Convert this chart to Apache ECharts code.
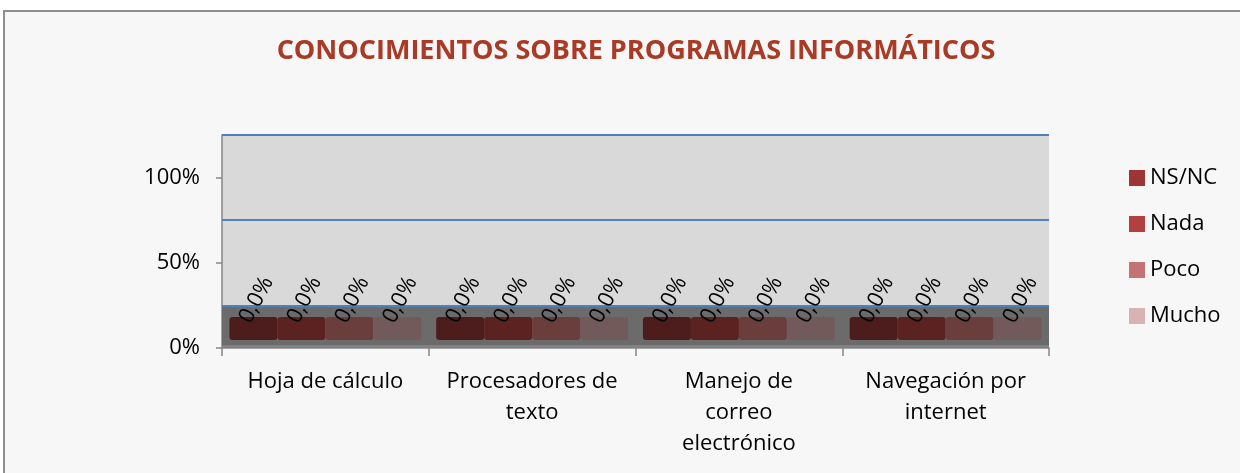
<!DOCTYPE html>
<html>
<head>
<meta charset="utf-8">
<title>Conocimientos sobre programas informáticos</title>
<script src="https://cdn.jsdelivr.net/npm/echarts@6/dist/echarts.min.js"></script>
<style>
  body { margin: 0; background: #fff; }
  #frame { position: absolute; left: 3px; top: 10px; width: 1300px; height: 500px;
           background: #f7f7f7; border-left: 2px solid #8f8f8f; border-top: 2px solid #8f8f8f; }
  #main { position: absolute; left: 0; top: 0; width: 1240px; height: 473px; }
</style>
</head>
<body>
<div id="frame"></div>
<div id="main"></div>
<script>
const categories = ['Hoja de cálculo', 'Procesadores de\ntexto', 'Manejo de\ncorreo\nelectrónico', 'Navegación por\ninternet'];
const seriesNames = ['NS/NC', 'Nada', 'Poco', 'Mucho'];
const nsncValues = [0, 0, 0, 0];
const nadaValues = [0, 0, 0, 0];
const pocoValues = [0, 0, 0, 0];
const muchoValues = [0, 0, 0, 0];
const yTickValues = [0, 0.5, 1];
const wallLines = [0.25, 0.75, 1.25];

const legendColors = ['#9e3535', '#b34040', '#c47272', '#d9b3b3'];
const barColors = ['#4d1c1c', '#5c2222', '#6b3e3e', '#735a5a'];

const allValues = [nsncValues, nadaValues, pocoValues, muchoValues];

let myChart = echarts.init(document.getElementById('main'));

function renderBar(params, api) {
    const ci = api.value(0);
    const v = api.value(1);
    const s = params.seriesIndex;
    const pt = api.coord([ci, v]);
    const zero = api.coord([ci, 0]);
    const band = api.size([1, 0])[0];
    const bw = band * 0.232;
    const x0 = pt[0] - band * 0.464 + s * bw;
    const top = pt[1] - 31;
    const bottom = zero[1] - 8;
    const label = (v * 100).toFixed(1).replace('.', ',') + '%';
    return {
        type: 'group',
        children: [
            {
                type: 'rect',
                shape: { x: x0, y: top, width: bw, height: bottom - top, r: 3 },
                style: { fill: barColors[s] }
            },
            {
                type: 'text',
                x: x0 + bw / 2 + 3,
                y: top - 17,
                rotation: 62 * Math.PI / 180,
                style: {
                    text: label,
                    fill: '#000',
                    fontSize: 22,
                    fontFamily: 'Open Sans',
                    align: 'center',
                    verticalAlign: 'middle'
                }
            }
        ]
    };
}

let series = seriesNames.map((name, s) => ({
    name: name,
    type: 'custom',
    renderItem: renderBar,
    itemStyle: { color: legendColors[s] },
    encode: { x: 0, y: 1 },
    data: allValues[s].map((v, i) => [i, v]),
    z: 5
}));

// back wall and floor of the 3D plot
series.push({
    name: 'wall',
    type: 'line',
    data: [],
    silent: true,
    markArea: {
        silent: true,
        itemStyle: { color: '#6b6b6b' },
        data: [[{ yAxis: 0.018 }, { yAxis: 0.25 }]]
    },
    markLine: {
        silent: true,
        symbol: 'none',
        label: { show: false },
        lineStyle: { color: '#4f81bd', width: 2, type: 'solid' },
        data: wallLines.map(v => ({ yAxis: v }))
    },
    z: 2
});
series.push({
    name: 'edge',
    type: 'line',
    data: [],
    silent: true,
    markArea: {
        silent: true,
        itemStyle: { color: '#828282' },
        data: [[{ yAxis: 0 }, { yAxis: 0.018 }]]
    },
    z: 2
});

let option = {
    title: {
        text: 'CONOCIMIENTOS SOBRE PROGRAMAS INFORMÁTICOS',
        left: 631,
        textAlign: 'center',
        top: 33,
        textStyle: { color: '#a93a26', fontSize: 27, fontWeight: 'bold', fontFamily: 'Open Sans' }
    },
    legend: {
        data: seriesNames,
        orient: 'vertical',
        left: 1129,
        top: 167,
        padding: 0,
        itemWidth: 16,
        itemHeight: 16,
        itemGap: 24,
        icon: 'rect',
        textStyle: { fontSize: 22, color: '#000', fontFamily: 'Open Sans' }
    },
    grid: {
        left: 222,
        right: 191,
        top: 135,
        bottom: 125,
        show: true,
        backgroundColor: '#d9d9d9',
        borderWidth: 0
    },
    xAxis: {
        type: 'category',
        data: categories,
        axisLine: { lineStyle: { color: '#868686', width: 1.5 } },
        axisTick: { show: true, length: 8, lineStyle: { color: '#868686', width: 1.5 } },
        axisLabel: { fontSize: 22, color: '#000', fontFamily: 'Open Sans', lineHeight: 31, margin: 18, interval: 0 }
    },
    yAxis: {
        type: 'value',
        min: 0,
        max: 1.25,
        axisLine: { show: true, lineStyle: { color: '#868686', width: 1.5 } },
        axisTick: { show: true, length: 6, customValues: yTickValues, lineStyle: { color: '#868686', width: 1.5 } },
        axisLabel: {
            customValues: yTickValues,
            fontSize: 22, color: '#000', fontFamily: 'Open Sans', margin: 22,
            formatter: v => Math.round(v * 100) + '%'
        },
        splitLine: { show: false }
    },
    series: series
};
myChart.setOption(option);
</script>
</body>
</html>
